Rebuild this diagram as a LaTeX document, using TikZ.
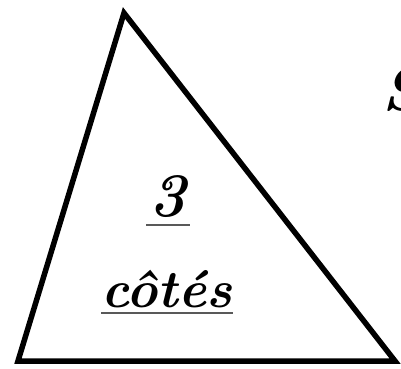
\documentclass[tikz,border=0pt]{standalone}
\tikzset{
    cote/.style={font=\fontsize{53}{58}\selectfont\bfseries\itshape, inner sep=0pt},
    souligne/.style={line width=1.6pt, gray!70!black}
}
\begin{document}
\begin{tikzpicture}[x=1pt,y=-1pt]
    \useasboundingbox (0,0) rectangle (401,368);
    \coordinate (haut) at (124,13);
    \coordinate (gauche) at (18,361);
    \coordinate (droite) at (395,361);
    \draw [line width=5.5pt] (haut) -- (gauche) -- (droite) -- cycle;
    \node [cote, font=\fontsize{62}{66}\selectfont\bfseries\itshape, anchor=base] (trois) at (168,216) {3};
    \draw [souligne] (146,225) -- (190,225);
    \node [cote, anchor=base] (mot) at (167,307) {côtés};
    \draw [souligne] (mot.west |- 0,313) -- (mot.east |- 0,313);
    \node [cote, font=\fontsize{60}{64}\selectfont\bfseries\itshape, anchor=west] (coupe) at (382,90) {S};
\end{tikzpicture}
\end{document}
